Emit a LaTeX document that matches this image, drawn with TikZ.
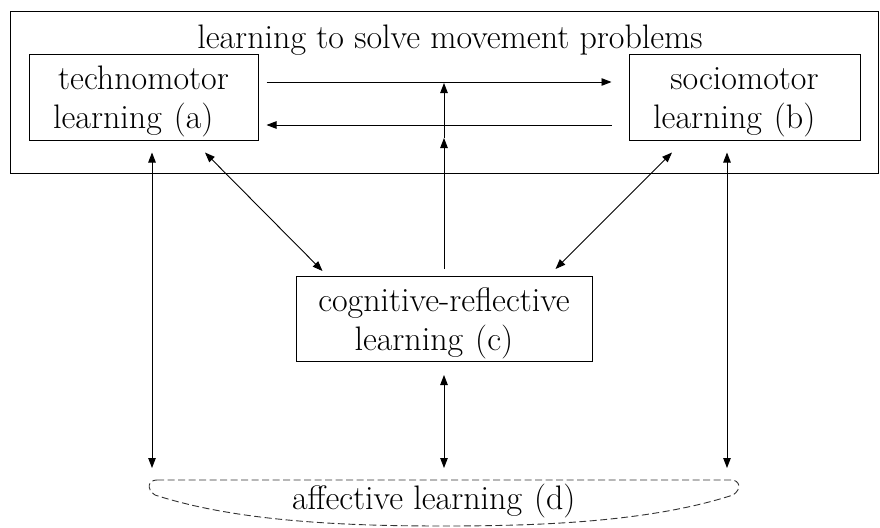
\documentclass[tikz,border=0pt]{standalone}
\usetikzlibrary{arrows.meta}
\newcommand{\tallstrut}{\rule{0pt}{32pt}}
\begin{document}
\begin{tikzpicture}[x=1pt,y=-1pt,
  every node/.style={font=\fontsize{34}{39}\selectfont, inner sep=0pt},
  learnbox/.style={draw, line width=1pt, align=center},
  link/.style={line width=0.9pt, -{Triangle[length=10pt,width=7.5pt]}},
  duplex/.style={line width=0.9pt, {Triangle[length=10pt,width=7.5pt]}-{Triangle[length=10pt,width=7.5pt]}}
]
\useasboundingbox (0,0) rectangle (880,527);

% outer frame and its title
\node[draw, line width=1pt, minimum width=868pt, minimum height=161pt] (frame) at (444,92.5) {};
\node (title) at (450,40) {learning to solve movement problems};

% the three boxed kinds of learning
\node[learnbox, minimum width=229pt, minimum height=85pt] (a) at (143.5,97.5)
  {\tallstrut technomotor\\learning\hspace{0.35em}(a)\kern0.6em};
\node[learnbox, minimum width=231pt, minimum height=85pt] (b) at (744.5,97.5)
  {\tallstrut sociomotor\\learning\hspace{0.35em}(b)\kern0.6em};
\node[learnbox, minimum width=296pt, minimum height=85pt] (c) at (444,319)
  {\tallstrut cognitive-reflective\\learning\hspace{0.35em}(c)\kern0.6em};

% affective learning, inside a dashed outline
\node (d) at (444,501) {affective learning\hspace{0.35em}(d)\kern0.6em};
\draw[dashed, dash pattern=on 7pt off 3.5pt, line width=0.9pt, black!80]
  (157,480) -- (731,480)
  .. controls (740,480) and (742,489) .. (733,495)
  .. controls (650,522) and (540,526) .. (444,526)
  .. controls (348,526) and (238,522) .. (155,495)
  .. controls (146,489) and (148,480) .. (157,480) -- cycle;

\coordinate (dl) at (152,468);
\coordinate (dm) at (444,468);
\coordinate (dr) at (727,468);
\coordinate (mid) at (444,138);
\coordinate (top) at (444,83);

% arrows between technomotor and sociomotor learning
\draw[link] ([xshift=8pt,yshift=15.5pt]a.east) -- ([xshift=-17pt,yshift=15.5pt]b.west);
\draw[link] ([xshift=-17pt,yshift=-27.5pt]b.west) -- ([xshift=8pt,yshift=-27.5pt]a.east);

% cognitive-reflective learning acts on both exchanges
\draw[link] ([yshift=7pt]c.north) -- (mid);
\draw[link] (mid) -- (top);

% diagonal links to the cognitive-reflective box
\draw[duplex] ([xshift=61.5pt,yshift=-12pt]a.south) -- ([xshift=27pt,yshift=5pt]c.north west);
\draw[duplex] ([xshift=-72.5pt,yshift=-12pt]b.south) -- ([xshift=-37pt,yshift=7pt]c.north east);

% vertical links to affective learning
\draw[duplex] ([xshift=8.5pt,yshift=-12pt]a.south) -- (dl);
\draw[duplex] ([xshift=-17.5pt,yshift=-12pt]b.south) -- (dr);
\draw[duplex] ([yshift=-13pt]c.south) -- (dm);
\end{tikzpicture}
\end{document}
